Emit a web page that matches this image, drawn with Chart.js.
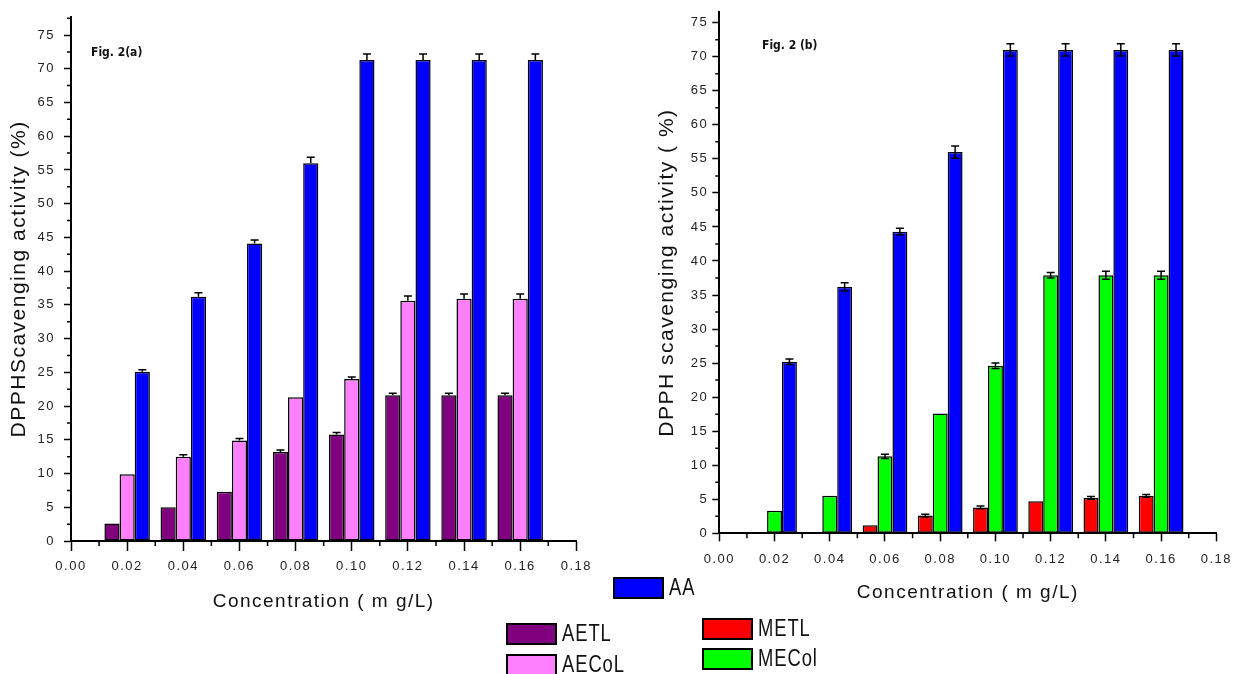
<!DOCTYPE html>
<html lang="en">
<head>
    <meta charset="UTF-8">
    <title>DPPH scavenging activity - Fig. 2</title>
    <script src="https://cdn.jsdelivr.net/npm/chart.js"></script>
    <style>
        body {
            margin: 0;
            background: #fff;
            width: 1242px;
            height: 674px;
            overflow: hidden;
            position: relative;
            font-family: "Liberation Sans", Arial, sans-serif;
        }
        canvas { position: absolute; top: 0; }
        #figA { left: 0; }
        #figB { left: 620px; }
        .figlabel {
            position: absolute;
            font: bold 12px "Liberation Sans Narrow", "DejaVu Sans Condensed", sans-serif;
            color: #111;
        }
        .legend-item {
            position: absolute;
            display: flex;
            align-items: center;
            font-family: "Liberation Sans", sans-serif;
            font-size: 20px;
            letter-spacing: 1px;
            color: #111;
            z-index: 2;
        }
        .legend-item span.txt {
            display: inline-block;
            transform: scale(0.92, 1.15);
            transform-origin: left center;
        }
        .swatch {
            width: 51px;
            height: 22px;
            border: 2px solid #000;
            box-sizing: border-box;
            margin-right: 5px;
        }
    </style>
</head>
<body>
    <canvas id="figA" width="600" height="620"></canvas>
    <canvas id="figB" width="622" height="620"></canvas>
    <div class="figlabel" style="left:91px; top:45px;">Fig. 2(a)</div>
    <div class="figlabel" style="left:762px; top:38px;">Fig. 2 (b)</div>
    <div id="legend"></div>

    <script>
        // categories (concentration, mg/L) and y tick labels
        const concLabels = ['0.00', '0.02', '0.04', '0.06', '0.08', '0.10', '0.12', '0.14', '0.16', '0.18'];
        const yTicks = [0, 5, 10, 15, 20, 25, 30, 35, 40, 45, 50, 55, 60, 65, 70, 75];

        // Fig. 2(a)
        const aetl     = [null, 2.6, 5.0, 7.3, 13.2, 15.8, 21.6, 21.6, 21.6, null];
        const aetlErr  = [null, 0, 0, 0, 0.3, 0.3, 0.3, 0.3, 0.3, null];
        const aecol    = [null, 9.9, 12.5, 14.9, 21.3, 24.0, 35.6, 35.9, 35.9, null];
        const aecolErr = [null, 0, 0.3, 0.3, 0, 0.3, 0.7, 0.7, 0.7, null];
        const aaA      = [null, 25.1, 36.2, 44.1, 56.0, 71.3, 71.3, 71.3, 71.3, null];
        const aaAErr   = [null, 0.3, 0.6, 0.5, 0.9, 0.9, 0.9, 0.9, 0.9, null];

        // Fig. 2(b)
        const metl     = [null, null, null, 1.2, 2.6, 3.8, 4.7, 5.2, 5.5, null];
        const metlErr  = [null, null, null, 0, 0.2, 0.2, 0, 0.2, 0.2, null];
        const mecol    = [null, 3.3, 5.5, 11.3, 17.6, 24.6, 37.9, 37.9, 37.9, null];
        const mecolErr = [null, 0, 0, 0.3, 0, 0.4, 0.4, 0.6, 0.6, null];
        const aaB      = [null, 25.2, 36.2, 44.3, 56.0, 71.0, 71.0, 71.0, 71.0, null];
        const aaBErr   = [null, 0.4, 0.6, 0.5, 0.9, 0.9, 0.9, 0.9, 0.9, null];

        const colors = { AETL: '#800080', AECoL: '#ff80ff', AA: '#0000ff', METL: '#ff0000', MECol: '#00ff00' };

        function bars(label, data, errors) {
            return {
                label: label,
                data: data,
                errors: errors,
                backgroundColor: colors[label],
                borderColor: '#000',
                borderWidth: 1.5,
                borderSkipped: false
            };
        }

        // spaced text like the original
        const spacing = {
            id: 'spacing',
            beforeUpdate(chart) { chart.ctx.letterSpacing = '1.5px'; },
            beforeDraw(chart) { chart.ctx.letterSpacing = '1.5px'; }
        };

        const errorBars = {
            id: 'errorBars',
            afterDatasetsDraw(chart, args, opts) {
                const ctx = chart.ctx;
                const y = chart.scales.y;
                ctx.save();
                ctx.strokeStyle = '#000';
                ctx.lineWidth = 1.5;
                chart.data.datasets.forEach((ds, di) => {
                    chart.getDatasetMeta(di).data.forEach((bar, i) => {
                        const v = ds.data[i], e = ds.errors[i];
                        if (v == null || !e) return;
                        const top = y.getPixelForValue(v + e);
                        const bot = opts.both ? y.getPixelForValue(v - e) : bar.y;
                        ctx.beginPath();
                        ctx.moveTo(bar.x, top); ctx.lineTo(bar.x, bot);
                        ctx.moveTo(bar.x - 4, top); ctx.lineTo(bar.x + 4, top);
                        if (opts.both) { ctx.moveTo(bar.x - 4, bot); ctx.lineTo(bar.x + 4, bot); }
                        ctx.stroke();
                    });
                });
                ctx.restore();
            }
        };

        const minorTicks = {
            id: 'minorTicks',
            afterDraw(chart) {
                const { ctx, scales: { x, y } } = chart;
                ctx.save();
                ctx.strokeStyle = '#000';
                ctx.lineWidth = 1.5;
                ctx.beginPath();
                for (let k = 0; k < yTicks.length; k++) {
                    const py = y.getPixelForValue(yTicks[k] + 2.5);
                    if (py < y.top) break;
                    ctx.moveTo(x.left - 4, py); ctx.lineTo(x.left, py);
                }
                for (let i = 0; i < concLabels.length - 1; i++) {
                    const px = (x.getPixelForValue(i) + x.getPixelForValue(i + 1)) / 2;
                    ctx.moveTo(px, y.bottom); ctx.lineTo(px, y.bottom + 5);
                }
                ctx.stroke();
                ctx.restore();
            }
        };

        function makeOptions(cfg) {
            return {
                responsive: false,
                animation: false,
                layout: { padding: cfg.padding },
                datasets: { bar: { categoryPercentage: 0.81, barPercentage: 1 } },
                plugins: {
                    legend: { display: false },
                    tooltip: { enabled: false },
                    errorBars: { both: cfg.both }
                },
                scales: {
                    x: {
                        type: 'category',
                        offset: false,
                        grid: { drawOnChartArea: false, offset: false, tickLength: cfg.xTick, tickWidth: 1.5, tickColor: '#000' },
                        border: { color: '#000', width: 2 },
                        ticks: { color: '#222', font: { size: 13 }, padding: cfg.xPad, maxRotation: 0, autoSkip: false },
                        title: {
                            display: true, text: 'Concentration ( m g/L)', color: '#111',
                            font: { size: 19 }, padding: { top: 0, bottom: cfg.xTitlePad }
                        },
                        afterFit: s => { s.height = cfg.xHeight; }
                    },
                    y: {
                        min: 0,
                        max: cfg.yMax,
                        afterBuildTicks: s => { s.ticks = yTicks.map(v => ({ value: v })); },
                        grid: { drawOnChartArea: false, tickLength: 7, tickWidth: 1.5, tickColor: '#000' },
                        border: { color: '#000', width: 2 },
                        ticks: { color: '#222', font: { size: 13 }, padding: cfg.yPad },
                        title: {
                            display: true, text: cfg.yTitle, color: '#111',
                            font: { size: 21 }, padding: { top: cfg.yTitlePad, bottom: 0 }
                        },
                        afterFit: s => { s.width = cfg.yWidth; }
                    }
                }
            };
        }

        new Chart(document.getElementById('figA'), {
            type: 'bar',
            data: {
                labels: concLabels,
                datasets: [bars('AETL', aetl, aetlErr), bars('AECoL', aecol, aecolErr), bars('AA', aaA, aaAErr)]
            },
            options: makeOptions({
                padding: { left: 0, top: 16, right: 19, bottom: 0 },
                yMax: 77.7, yWidth: 71, xHeight: 79,
                xTick: 10, xPad: 8, yPad: 9,
                xTitlePad: 7, yTitlePad: 7,
                yTitle: 'DPPHScavenging activity (%)',
                both: false
            }),
            plugins: [spacing, errorBars, minorTicks]
        });

        new Chart(document.getElementById('figB'), {
            type: 'bar',
            data: {
                labels: concLabels,
                datasets: [bars('METL', metl, metlErr), bars('MECol', mecol, mecolErr), bars('AA', aaB, aaBErr)]
            },
            options: makeOptions({
                padding: { left: 0, top: 10, right: 13, bottom: 0 },
                yMax: 76.6, yWidth: 99.3, xHeight: 86.7,
                xTick: 8, xPad: 10,  yPad: 4,
                xTitlePad: 16, yTitlePad: 35,
                yTitle: 'DPPH scavenging activity ( %)',
                both: true
            }),
            plugins: [spacing, errorBars, minorTicks]
        });

        // legend boxes placed like the original figure
        const legendItems = [
            { label: 'AA', left: 613, top: 576 },
            { label: 'AETL', left: 506, top: 622 },
            { label: 'AECoL', left: 506, top: 653 },
            { label: 'METL', left: 702, top: 617 },
            { label: 'MECol', left: 702, top: 647 }
        ];
        const legend = document.getElementById('legend');
        legendItems.forEach(item => {
            const div = document.createElement('div');
            div.className = 'legend-item';
            div.style.left = item.left + 'px';
            div.style.top = item.top + 'px';
            div.innerHTML = '<span class="swatch" style="background:' + colors[item.label] + '"></span><span class="txt">' + item.label + '</span>';
            legend.appendChild(div);
        });
    </script>
</body>
</html>
